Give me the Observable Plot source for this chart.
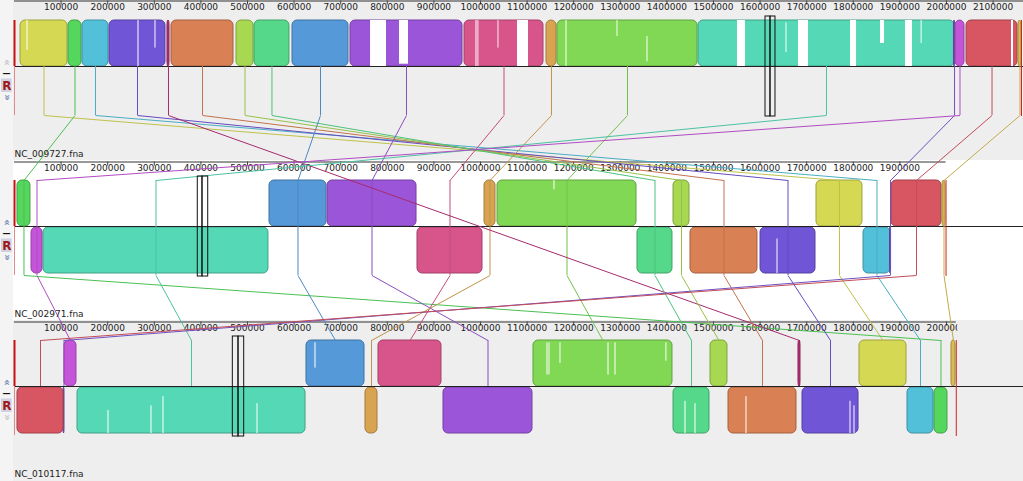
<!DOCTYPE html>
<html><head><meta charset="utf-8">
<script src="https://cdn.jsdelivr.net/npm/d3@7"></script>
<script src="https://cdn.jsdelivr.net/npm/@observablehq/plot@0.6"></script>
<style>html,body{margin:0;padding:0;background:#fff;}#chart{width:1023px;height:481px;overflow:hidden;}</style>
</head><body><div id="chart"></div>
<script>
// ---------------- DATA ----------------
const genomeNames = ["NC_009727.fna", "NC_002971.fna", "NC_010117.fna"];
const genomeLengths = [2160900, 1999000, 2021000];
const rulerTicks = [100000,200000,300000,400000,500000,600000,700000,800000,900000,1000000,
  1100000,1200000,1300000,1400000,1500000,1600000,1700000,1800000,1900000,2000000,2100000];

// one colour per LCB (locally collinear block)
const lcbColors = ["#d4d852","#55d65c","#52c0d8","#7055d6","#b8307a","#d98055","#a8d852","#55d88a",
  "#5599d8","#9b55d8","#d8558c","#d9a452","#80d855","#55d8b5","#7a5ad8","#c455d8","#d85562","#d8be50"];

// [start bp, end bp, strand] of every LCB in each genome (null = absent)
const genome1Blocks = [
  [12900,113700,1],[115900,143800,1],[145900,201700,1],[203900,324000,1],[328300,332600,1],
  [336900,470000,1],[476400,512900,1],[515000,590000,1],[596600,716700,1],[721000,961400,1],
  [965700,1135200,1],[1141600,1163100,1],[1165200,1465700,1],[1467800,2017200,1],[2016000,2018500,1],
  [2019300,2038600,1],[2043000,2152400,1],[2154500,2160900,1]];
const genome2Blocks = [
  [1721000,1819700,1],[6400,34300,1],[1821900,1879800,-1],[1600900,1718900,-1],null,
  [1450600,1594400,-1],[1414200,1448500,1],[1336900,1412000,-1],[547200,669500,1],[671700,862700,1],
  [864800,1004300,-1],[1008600,1032200,1],[1036500,1334800,1],[62200,545000,-1],[1878800,1881000,-1],
  [36500,60100,-1],[1882000,1989300,1],[1991400,1997900,1]];
const genome3Blocks = [
  [1813300,1914200,1],[1974200,2002100,-1],[1916300,1972100,-1],[1691000,1811200,-1],[1682400,1686700,1],
  [1532200,1678100,-1],[1493600,1530000,1],[1414200,1491400,-1],[626600,751100,1],[920600,1111600,-1],
  [781100,916300,1],[753200,779000,-1],[1113700,1412000,1],[135200,624500,-1],[105200,107300,-1],
  [107300,133000,1],[6400,105200,-1],[2010700,2019300,1]];

// low-similarity gaps inside blocks: [start bp, end bp, from, to] (fraction of block height)
const genome1Gaps = [
  [26800,29000,0,0.65],[265000,267200,0,1],[301500,303600,0,0.6],[764000,798300,0,1],[826200,845500,0,0.95],
  [990300,992500,0,1],[994600,996400,0,1],[1037600,1039500,0,0.6],[1079400,1103000,0,1],
  [1183500,1185600,0,1],[1293000,1295000,0,0.35],[1357300,1359400,0.35,0.9],
  [1551500,1568700,0,1],[1655600,1657700,0.05,0.7],[1682400,1703900,0,1],[1794000,1807000,0,1],
  [1858400,1867000,0,0.5],[1912000,1927000,0,1],[1945500,1947600,0,0.5],[2139500,2143800,0,1]];
const genome2Gaps = [[1157700,1159900,0,0.2],[1636300,1638400,0.25,1]];
const genome3Gaps = [
  [644800,647000,0.05,0.6],[200600,202800,0.5,1],[292900,295100,0.4,1],[318700,320800,0.2,1],
  [520400,522500,0.35,1],[1142700,1144800,0.05,0.75],[1147000,1149000,0.05,0.75],[1170600,1172700,0.05,0.5],
  [1273600,1275800,0.05,0.75],[1288600,1290800,0.05,0.75],[1397900,1400000,0.05,0.45],
  [1438800,1441000,0.3,1],[1460300,1462400,0.35,1],[1569700,1571900,0.2,1],
  [1792900,1795000,0.3,1],[1801500,1803600,0.4,1]];

// highlighted cursor position in each genome (bp)
const cursorPositions = [[1611600,1622300,1633000],[393300,403400,415700],[468500,480700,492900]];

// ---------------- LAYOUT ----------------
const W = 1023, H = 481, X0 = 14, PX_PER_BP = 0.000466;
const bpAt = px => (px - X0) / PX_PER_BP;
const trackTop = [0, 160, 320];
const rulerY = [0.5, 161.5, 321.5];
const trackBg = ["#eeeeee", "#ffffff", "#eeeeee"];
const geo = trackTop.map(t => ({top: t + 20, center: t + 66, bottom: t + 115}));
const genomeBlocks = [genome1Blocks, genome2Blocks, genome3Blocks];
const genomeGaps = [genome1Gaps, genome2Gaps, genome3Gaps];
const dk = (c, k) => d3.color(c).darker(k).formatHex();

// blocks table
const blocks = [];
genomeBlocks.forEach((arr, g) => arr.forEach((b, i) => {
  if (!b) return;
  const [s, e, strand] = b, G = geo[g];
  blocks.push({g, i, x1: s, x2: e, y1: strand > 0 ? G.top : G.center + 1, y2: strand > 0 ? G.center : G.center + 47,
    fill: lcbColors[i], stroke: dk(lcbColors[i], 0.8)});
}));
const gapRects = [];
genomeGaps.forEach((arr, g) => arr.forEach(([s, e, f0, f1]) => {
  const m = (s + e) / 2;
  const b = blocks.find(d => d.g === g && d.x1 <= m && d.x2 >= m);
  if (!b) return;
  const h = b.y2 - b.y1;
  gapRects.push({x1: s, x2: e, y1: b.y1 + f0 * h, y2: b.y1 + f1 * h});
}));

// connectors
const verts = [], links = [];
lcbColors.forEach((c, i) => {
  const col = dk(c, 0.3);
  const pres = genomeBlocks.map((arr, g) => arr[i] ? {g, x: (arr[i][0] + arr[i][1]) / 2} : null).filter(Boolean);
  pres.forEach(p => {
    const G = geo[p.g];
    verts.push({g: p.g, x: p.x, y1: p.g === 0 ? G.center : G.top, y2: p.g === 2 ? G.center : G.bottom, stroke: col});
  });
  for (let k = 0; k + 1 < pres.length; k++) {
    const a = pres[k], b = pres[k + 1];
    links.push({x1: a.x, y1: geo[a.g].bottom, x2: b.x, y2: geo[b.g].top, stroke: col});
  }
});

const bgRects = trackTop.map((t, g) => ({x1: bpAt(0), x2: bpAt(W), y1: t, y2: g < 2 ? trackTop[g + 1] : H, fill: trackBg[g]}));
const stripRects = trackTop.map((t, g) => ({x1: bpAt(0), x2: bpAt(13), y1: t, y2: g < 2 ? trackTop[g + 1] : H}));
const rulers = genomeLengths.map((L, g) => ({y: rulerY[g], x1: 0, x2: g === 0 ? bpAt(W) : L}));
const tickData = genomeLengths.flatMap((L, g) => rulerTicks.filter(t => t < L).map(t => ({g, x: t, y: rulerY[g]})));
const cursorRects = cursorPositions.flatMap((p, g) => [[p[0], p[1]], [p[1], p[2]]].map(([a, b]) => ({x1: a, x2: b, y1: geo[g].top - 4, y2: geo[g].bottom + 1})));
const startMarks = geo.map(G => ({x: 0, y1: G.top, y2: G.center}));
const startTails = geo.map(G => ({x: 0, y1: G.center, y2: G.bottom}));
const endMarks = genomeLengths.map((L, g) => ({x: L, y1: geo[g].top, y2: geo[g].bottom + 1}));
const centers = geo.map(G => ({y: G.center, x1: 0, x2: bpAt(W)}));
const nameLabels = genomeNames.map((n, g) => ({x: 0, y: trackTop[g] + 153.8, text: n}));
const chevCol = ["#c4c4c4", "#7088b8"];
const controls = trackTop.flatMap((t, g) => [
  {x: bpAt(6.5), y: t + 62, text: "»", rotate: -90, fill: g === 0 ? chevCol[0] : chevCol[1]},
  {x: bpAt(6.5), y: t + 97, text: "»", rotate: 90, fill: g === 2 ? chevCol[0] : chevCol[1]}]);
const dashes = trackTop.map(t => ({x: bpAt(6), y: t + 73, text: "—"}));
const rBoxes = trackTop.map(t => ({x1: bpAt(1), x2: bpAt(11.5), y1: t + 78.5, y2: t + 92}));
const rLabels = trackTop.map(t => ({x: bpAt(6.3), y: t + 85.5, text: "R"}));

const marks = [
  Plot.rect(bgRects, {x1: "x1", x2: "x2", y1: "y1", y2: "y2", fill: "fill"}),
  Plot.rect(stripRects, {x1: "x1", x2: "x2", y1: "y1", y2: "y2", fill: "#f4f4f4"}),
  Plot.ruleY(rulers, {y: "y", x1: "x1", x2: "x2", stroke: "#333", strokeWidth: 1}),
  Plot.ruleX(tickData, {x: "x", y1: "y", y2: d => d.y + 4, stroke: "#444"})
];
[0, 1, 2].forEach(g => marks.push(
  Plot.text(tickData.filter(d => d.g === g), {x: "x", y: d => d.y + 6.6, text: d => String(d.x),
    fill: "#222", fontSize: 9, textAnchor: "middle", ariaDescription: "ruler-labels-" + g})));
marks.push(
  Plot.ruleX(verts.filter(d => d.g === 2), {x: "x", y1: "y1", y2: "y2", stroke: "stroke", strokeWidth: 1}),
  Plot.rect(blocks, {x1: "x1", x2: "x2", y1: "y1", y2: "y2", fill: "fill", stroke: "stroke", strokeWidth: 1, rx: 5}),
  Plot.rect(gapRects, {x1: "x1", x2: "x2", y1: "y1", y2: "y2", fill: "#ffffff"}),
  Plot.ruleY(centers, {y: "y", x1: "x1", x2: "x2", stroke: "#222", strokeWidth: 1}),
  Plot.ruleX(verts.filter(d => d.g !== 2), {x: "x", y1: "y1", y2: "y2", stroke: "stroke", strokeWidth: 1}),
  Plot.link(links, {x1: "x1", y1: "y1", x2: "x2", y2: "y2", stroke: "stroke", strokeWidth: 1}),
  Plot.ruleX(startTails, {x: "x", y1: "y1", y2: "y2", stroke: "#e08a8a", strokeWidth: 1}),
  Plot.ruleX(startMarks, {x: "x", y1: "y1", y2: "y2", stroke: "#c81010", strokeWidth: 2}),
  Plot.ruleX(endMarks, {x: "x", y1: "y1", y2: "y2", stroke: "#d02020", strokeWidth: 1}),
  Plot.rect(cursorRects, {x1: "x1", x2: "x2", y1: "y1", y2: "y2", fill: "none", stroke: "#111", strokeWidth: 1}),
  Plot.text(nameLabels, {x: "x", y: "y", text: "text", textAnchor: "start", fill: "#222", fontSize: 9}),
  Plot.text(controls, {x: "x", y: "y", text: "text", rotate: "rotate", fill: "fill", fontSize: 10, fontWeight: "bold"}),
  Plot.text(dashes, {x: "x", y: "y", text: "text", fill: "#111", fontSize: 8, fontWeight: "bold"}),
  Plot.rect(rBoxes, {x1: "x1", x2: "x2", y1: "y1", y2: "y2", fill: "#d0d0e2"}),
  Plot.text(rLabels, {x: "x", y: "y", text: "text", fill: "#a01818", fontSize: 12, fontWeight: "bold"})
);

const plot = Plot.plot({
  width: W, height: H, margin: 0,
  x: {domain: [0, 2000000], range: [X0, X0 + 2000000 * PX_PER_BP], axis: null},
  y: {domain: [0, H], range: [0, H], axis: null},
  color: {type: "identity"},
  style: {background: "transparent", fontFamily: "'DejaVu Sans', sans-serif", fontSize: "9px", overflow: "hidden"},
  marks
});
document.getElementById("chart").appendChild(plot);

// clip ruler labels at each genome's end
const svg = d3.select(plot);
const defs = svg.insert("defs", ":first-child");
genomeLengths.forEach((L, g) => {
  defs.append("clipPath").attr("id", "rclip" + g).append("rect")
    .attr("x", 0).attr("y", 0).attr("width", X0 + L * PX_PER_BP + 1).attr("height", H);
  svg.selectAll('g[aria-description="ruler-labels-' + g + '"]').attr("clip-path", "url(#rclip" + g + ")");
});
</script>
</body></html>
